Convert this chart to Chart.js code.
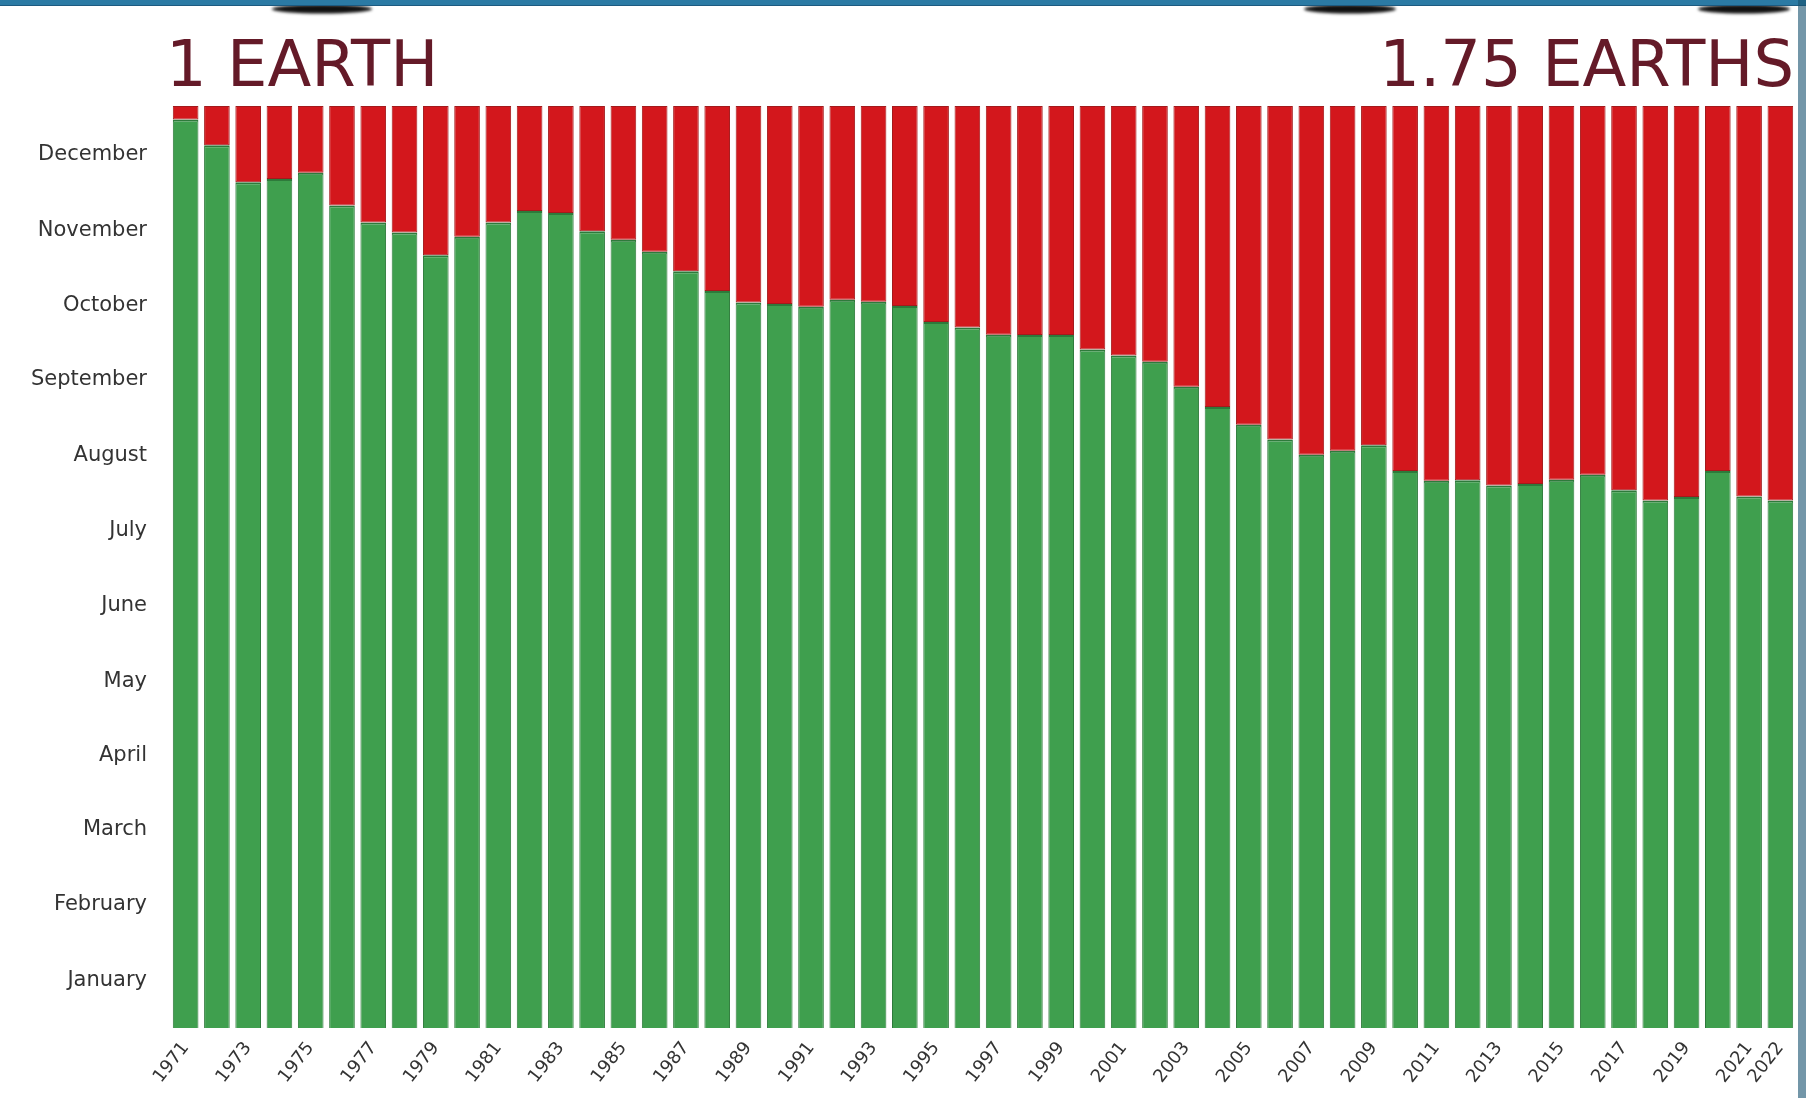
<!DOCTYPE html>
<html>
<head>
<meta charset="utf-8">
<title>Earth Overshoot Day</title>
<script src="https://cdn.jsdelivr.net/npm/chart.js@4.4.1/dist/chart.umd.min.js"></script>
<style>
  html, body { margin: 0; padding: 0; background: #fff; }
  #wrap { width: 1806px; height: 1098px; }
</style>
</head>
<body>
<div id="wrap"><canvas id="chart" width="1806" height="1098"></canvas></div>
<script>
const years = [
  "1971", "1972", "1973", "1974", "1975", "1976", "1977", "1978", "1979", "1980",
  "1981", "1982", "1983", "1984", "1985", "1986", "1987", "1988", "1989", "1990",
  "1991", "1992", "1993", "1994", "1995", "1996", "1997", "1998", "1999", "2000",
  "2001", "2002", "2003", "2004", "2005", "2006", "2007", "2008", "2009", "2010",
  "2011", "2012", "2013", "2014", "2015", "2016", "2017", "2018", "2019", "2020",
  "2021", "2022"
]

// day of the year the resources ran out (green part of each bar)
const overshootDay = [
  359.7, 349.5, 334.8, 336.1, 338.6, 325.6, 318.9, 314.9, 305.9, 313.2,
  318.9, 323.4, 322.6, 315.4, 312.1, 307.3, 299.6, 291.8, 287.2, 286.6,
  285.5, 288.3, 287.5, 285.8, 279.5, 277.3, 274.4, 274.3, 274.3, 268.6,
  266.2, 263.8, 253.9, 245.8, 238.8, 233.0, 226.9, 228.5, 230.7, 220.5,
  216.6, 216.8, 214.8, 215.4, 217.0, 219.0, 212.9, 208.8, 210.2, 220.5,
  210.4, 208.8
]

const yearLength = 365

const months = [
  "January", "February", "March", "April", "May", "June",
  "July", "August", "September", "October", "November", "December"
]
// where each month name sits on the day axis
const monthTickDays = [18.7, 48.7, 78.4, 108.0, 137.2, 167.2, 196.9, 226.5, 256.6, 286.2, 315.8, 345.9]

const labeledYears = years.filter((y, i) => i % 2 === 0 || y === "2022")

const green = "#3f9f4e"
const red = "#d3171c"

// the two headings above the bars, the blue frame and the cut-off globes
const decorations = {
  id: "decorations",
  beforeDraw: (chart) => {
    const { ctx } = chart
    ctx.save()
    ctx.fillStyle = "#ffffff"
    ctx.fillRect(0, 0, chart.width, chart.height)
    ctx.restore()
  },
  afterDraw: (chart) => {
    const { ctx, chartArea } = chart
    ctx.save()

    ctx.fillStyle = "#641a28"
    ctx.font = "64px 'DejaVu Sans'"
    ctx.textBaseline = "alphabetic"
    ctx.textAlign = "left"
    ctx.fillText("1 EARTH", chartArea.left - 4, 86)
    ctx.textAlign = "right"
    ctx.fillText("1.75 EARTHS", chartArea.right - 2, 86)

    ctx.fillStyle = "#111111"
    ctx.filter = "blur(1.5px)"
    ;[[322, 100], [1350, 92], [1744, 92]].forEach(([cx, w]) => {
      ctx.beginPath()
      ctx.ellipse(cx, 9, w / 2, 4.5, 0, 0, Math.PI * 2)
      ctx.fill()
    })
    ctx.filter = "none"

    ctx.fillStyle = "#2b7aa4"
    ctx.fillRect(0, 0, chart.width, 5)
    ctx.fillStyle = "#1d5a80"
    ctx.fillRect(0, 5, chart.width, 1)
    ctx.fillStyle = "rgba(22, 80, 110, 0.6)"
    ctx.fillRect(chart.width - 8, 0, 8, chart.height)

    ctx.restore()
  }
}

new Chart(document.getElementById("chart"), {
  type: "bar",
  data: {
    labels: years,
    datasets: [
      {
        label: "Within one Earth",
        data: overshootDay,
        backgroundColor: green,
        borderColor: "#2e7a3b",
        borderWidth: { top: 2, left: 1, right: 1, bottom: 0 },
        borderSkipped: false,
        categoryPercentage: 1,
        barPercentage: 0.82
      },
      {
        label: "Overshoot",
        data: overshootDay.map(d => yearLength - d),
        backgroundColor: red,
        borderColor: "#a31a1c",
        borderWidth: { top: 1, left: 1, right: 1, bottom: 1 },
        borderSkipped: false,
        categoryPercentage: 1,
        barPercentage: 0.82
      }
    ]
  },
  options: {
    responsive: false,
    devicePixelRatio: 1,
    animation: false,
    layout: { padding: { top: 106, right: 10, left: 0, bottom: 0 } },
    plugins: {
      legend: { display: false },
      title: { display: false },
      tooltip: { enabled: false }
    },
    scales: {
      x: {
        stacked: true,
        grid: { display: false },
        border: { display: false },
        ticks: {
          autoSkip: false,
          maxRotation: 52,
          minRotation: 52,
          padding: 2,
          color: "#333333",
          font: { family: "'DejaVu Sans'", size: 18 },
          callback: function (value) {
            const label = this.getLabelForValue(value)
            return labeledYears.includes(label) ? label : ""
          }
        },
        afterFit: (scale) => { scale.height = 70 }
      },
      y: {
        stacked: true,
        min: 0,
        max: yearLength,
        grid: { display: false, drawTicks: false },
        border: { display: false },
        afterBuildTicks: (scale) => {
          scale.ticks = monthTickDays.map(v => ({ value: v }))
        },
        ticks: {
          padding: 23,
          color: "#333333",
          font: { family: "'DejaVu Sans'", size: 21 },
          callback: (value, index) => months[index]
        },
        afterFit: (scale) => { scale.width = 170 }
      }
    }
  },
  plugins: [decorations]
})
</script>
</body>
</html>
